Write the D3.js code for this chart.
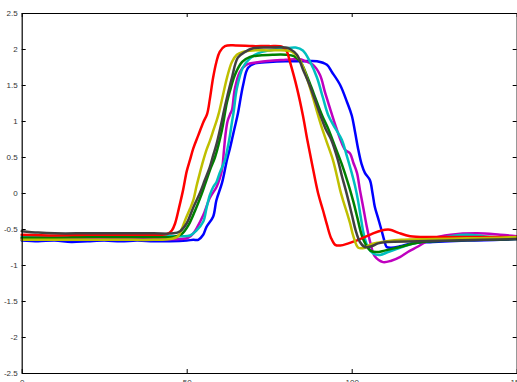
<!DOCTYPE html>
<html>
<head>
<meta charset="utf-8">
<script src="https://cdn.jsdelivr.net/npm/d3@7"></script>
<style>
  html, body { margin: 0; padding: 0; background: #fff; overflow: hidden; }
  svg { display: block; }
  .tick-label { font-family: "Liberation Sans", Arial, Helvetica, sans-serif; font-size: 8px; fill: #333; }
</style>
</head>
<body>
<svg id="chart" width="517" height="382"></svg>
<script>
// Axis ranges and tick labels
const xDomain = [0, 150];
const yDomain = [-2.5, 2.5];
const xTicks = [0, 50, 100, 150];
const yTicks = [2.5, 2, 1.5, 1, 0.5, 0, -0.5, -1, -1.5, -2, -2.5];

// Series samples: [sample index, amplitude]
const blue = [[0,-0.66],[5,-0.67],[10,-0.66],[15,-0.68],[20,-0.67],[25,-0.66],[30,-0.67],[35,-0.66],[40,-0.67],[45,-0.67],[50,-0.66],[52,-0.65],[53.5,-0.65],[55,-0.58],[56,-0.47],[58,-0.33],[59,-0.1],[60.7,0.14],[62.2,0.46],[63.1,0.62],[64,0.8],[64.6,0.92],[65.5,1.1],[67.1,1.5],[68.6,1.74],[70.7,1.8],[75,1.82],[80,1.83],[85,1.83],[89.5,1.83],[92.5,1.78],[94,1.68],[96.5,1.5],[98.6,1.26],[100,1.08],[101,0.85],[102,0.6],[103,0.4],[104,0.28],[105.5,0.18],[106.3,0.0],[107,-0.19],[108,-0.35],[109,-0.51],[110,-0.68],[110.6,-0.75],[112,-0.76],[114.6,-0.74],[118,-0.7],[124.6,-0.68],[135,-0.66],[145,-0.65],[150,-0.64]];

const magenta = [[0,-0.63],[10,-0.64],[20,-0.64],[30,-0.64],[40,-0.64],[48,-0.64],[50.5,-0.62],[52,-0.56],[53,-0.49],[55,-0.31],[57,-0.07],[59,0.08],[60,0.2],[60.7,0.32],[61.3,0.6],[61.8,0.83],[62.4,1.0],[63.2,1.1],[63.7,1.15],[64.6,1.45],[66.1,1.68],[68,1.78],[72,1.82],[80,1.85],[84,1.86],[86,1.83],[88.3,1.78],[90.4,1.64],[91.9,1.4],[93.4,1.18],[95,0.95],[96.5,0.75],[98,0.6],[99.5,0.55],[100.5,0.42],[101.6,0.28],[102.5,0.04],[103.5,-0.2],[104.5,-0.45],[105.7,-0.7],[107,-0.88],[109.5,-0.96],[112,-0.94],[114.6,-0.89],[117,-0.82],[119.8,-0.75],[124.6,-0.63],[130,-0.58],[138,-0.56],[145,-0.58],[150,-0.6]];

const cyan = [[0,-0.6],[10,-0.6],[20,-0.6],[30,-0.6],[40,-0.6],[48,-0.6],[51,-0.59],[53,-0.52],[55,-0.4],[56,-0.21],[57,-0.03],[58,0.08],[59,0.15],[60,0.28],[61.6,0.46],[62.5,0.65],[63.1,0.8],[63.7,0.98],[64.3,1.15],[65.2,1.45],[67.1,1.75],[69.2,1.87],[71.6,1.94],[75,1.98],[80,2.01],[83,2.02],[85.2,1.98],[87.4,1.82],[89.5,1.6],[91.3,1.32],[92.9,1.08],[95,0.9],[97,0.74],[98.5,0.52],[100,0.28],[101,0.1],[101.9,-0.1],[102.8,-0.35],[103.7,-0.58],[105,-0.76],[106.5,-0.84],[108.6,-0.86],[111,-0.82],[114.6,-0.76],[119,-0.7],[124.6,-0.65],[130,-0.6],[135,-0.58],[140,-0.6],[145,-0.62],[150,-0.63]];

const green = [[0,-0.62],[10,-0.62],[20,-0.61],[30,-0.61],[40,-0.61],[46,-0.61],[48.5,-0.57],[50.5,-0.45],[52.5,-0.25],[54.5,-0.02],[56,0.18],[57.3,0.35],[58.6,0.5],[60.7,0.88],[62.2,1.26],[63.5,1.48],[64.6,1.64],[66.8,1.82],[69.2,1.89],[72,1.91],[76,1.92],[80,1.92],[82.5,1.9],[84.5,1.82],[86.5,1.62],[88.5,1.38],[91,1.08],[93,0.88],[95,0.64],[97,0.4],[99,0.12],[100.5,-0.12],[101.8,-0.36],[103,-0.58],[104.3,-0.72],[105.7,-0.8],[107.5,-0.82],[110,-0.8],[114.6,-0.75],[120,-0.69],[130,-0.66],[140,-0.65],[150,-0.64]];

const red = [[0,-0.58],[10,-0.59],[20,-0.58],[30,-0.58],[40,-0.58],[44,-0.57],[45.5,-0.52],[46.5,-0.42],[47.7,-0.2],[48.9,0.04],[50,0.3],[51,0.46],[52,0.62],[53.5,0.8],[55,0.98],[56.2,1.1],[57,1.3],[58,1.6],[59,1.82],[60,1.96],[61.6,2.04],[65,2.05],[70,2.04],[75,2.04],[79,2.03],[80.3,1.97],[81.3,1.82],[83.4,1.46],[85.2,1.08],[86.5,0.75],[88,0.4],[89.8,0.0],[91.3,-0.24],[92.5,-0.44],[93.7,-0.62],[95,-0.72],[96.5,-0.73],[99,-0.7],[102.5,-0.64],[106,-0.57],[109,-0.52],[111.6,-0.51],[114,-0.55],[117.7,-0.6],[125,-0.61],[135,-0.61],[145,-0.61],[150,-0.61]];

const yellow = [[0,-0.65],[10,-0.65],[20,-0.65],[30,-0.65],[40,-0.65],[45,-0.64],[47.4,-0.6],[48.5,-0.5],[49.5,-0.38],[51,-0.22],[52,-0.1],[53,0.1],[54,0.28],[55,0.45],[56,0.6],[57,0.72],[58,0.86],[59.1,1.01],[59.8,1.12],[61,1.36],[62.2,1.6],[63.7,1.82],[65.2,1.92],[67,1.96],[70,1.98],[75,1.98],[80,1.98],[82,1.96],[84.3,1.85],[86.4,1.6],[88.3,1.32],[89.8,1.08],[91,0.9],[92.5,0.7],[94.3,0.46],[95.5,0.24],[96.5,0.04],[97.5,-0.12],[98.6,-0.28],[99.5,-0.42],[100.5,-0.6],[102,-0.76],[104,-0.76],[105.5,-0.72],[108,-0.69],[110.7,-0.67],[115,-0.65],[125,-0.64],[135,-0.63],[145,-0.62],[150,-0.61]];

const grey = [[0,-0.53],[5,-0.55],[10,-0.56],[20,-0.56],[30,-0.56],[40,-0.56],[46,-0.56],[48,-0.53],[50,-0.42],[52,-0.2],[54,0.0],[55.5,0.18],[57,0.36],[58,0.52],[59.1,0.69],[60.7,1.01],[61.1,1.1],[62.5,1.38],[63.7,1.6],[65.5,1.88],[67.7,1.96],[70.1,2.01],[75,2.02],[80,2.02],[81.3,2.0],[83.4,1.92],[85.2,1.72],[87.4,1.48],[90.5,1.08],[92,0.9],[93.8,0.74],[95.8,0.46],[97,0.24],[98.2,0.04],[99.2,-0.14],[100.2,-0.33],[101.2,-0.52],[102.5,-0.68],[104,-0.75],[106,-0.74],[108,-0.7],[110.6,-0.68],[120,-0.67],[130,-0.66],[140,-0.65],[150,-0.64]];

const seriesList = [
  { name: "blue", color: "#0000ff", values: blue },
  { name: "magenta", color: "#bf00bf", values: magenta },
  { name: "cyan", color: "#00bfbf", values: cyan },
  { name: "green", color: "#008000", values: green },
  { name: "red", color: "#ff0000", values: red },
  { name: "yellow", color: "#bfbf00", values: yellow },
  { name: "grey", color: "#404040", values: grey }
];

const svg = d3.select("#chart");
const plotLeft = 21.7, plotRight = 516.7, plotTop = 13, plotBottom = 373;

const x = d3.scaleLinear().domain(xDomain).range([plotLeft, plotRight]);
const y = d3.scaleLinear().domain(yDomain).range([plotBottom, plotTop]);

// Traces
const line = d3.line()
  .x(d => x(d[0]))
  .y(d => y(d[1]))
  .curve(d3.curveCatmullRom.alpha(0.5));

svg.append("g")
  .selectAll("path")
  .data(seriesList)
  .join("path")
  .attr("d", d => line(d.values))
  .attr("fill", "none")
  .attr("stroke", d => d.color)
  .attr("stroke-width", 2.5)
  .attr("stroke-linejoin", "round")
  .attr("stroke-linecap", "round");

// Box axes with inward ticks on all four sides
const tickLen = 4;
const axisBottom = d3.axisBottom(x).tickValues(xTicks).tickSizeInner(-tickLen).tickSizeOuter(0).tickPadding(6).tickFormat(d3.format("d"));
const axisTop = d3.axisTop(x).tickValues(xTicks).tickSizeInner(-tickLen).tickSizeOuter(0).tickFormat("");
const axisLeft = d3.axisLeft(y).tickValues(yTicks).tickSizeInner(-tickLen).tickSizeOuter(0).tickPadding(4).tickFormat(d => String(d));
const axisRight = d3.axisRight(y).tickValues(yTicks).tickSizeInner(-tickLen).tickSizeOuter(0).tickFormat("");

function styleAxis(g) {
  g.select(".domain").attr("stroke", "#000").attr("stroke-width", 1.2);
  g.selectAll(".tick line").attr("stroke", "#000").attr("stroke-width", 1);
  g.selectAll(".tick text").attr("class", "tick-label").attr("font-size", null).attr("font-family", null).attr("fill", null);
}

svg.append("g").attr("transform", `translate(0,${plotBottom})`).call(axisBottom).call(styleAxis);
svg.append("g").attr("transform", `translate(0,${plotTop})`).call(axisTop).call(styleAxis);
svg.append("g").attr("transform", `translate(${plotLeft},0)`).call(axisLeft).call(styleAxis);
svg.append("g").attr("transform", `translate(${plotRight},0)`).call(axisRight).call(styleAxis);
</script>
</body>
</html>
